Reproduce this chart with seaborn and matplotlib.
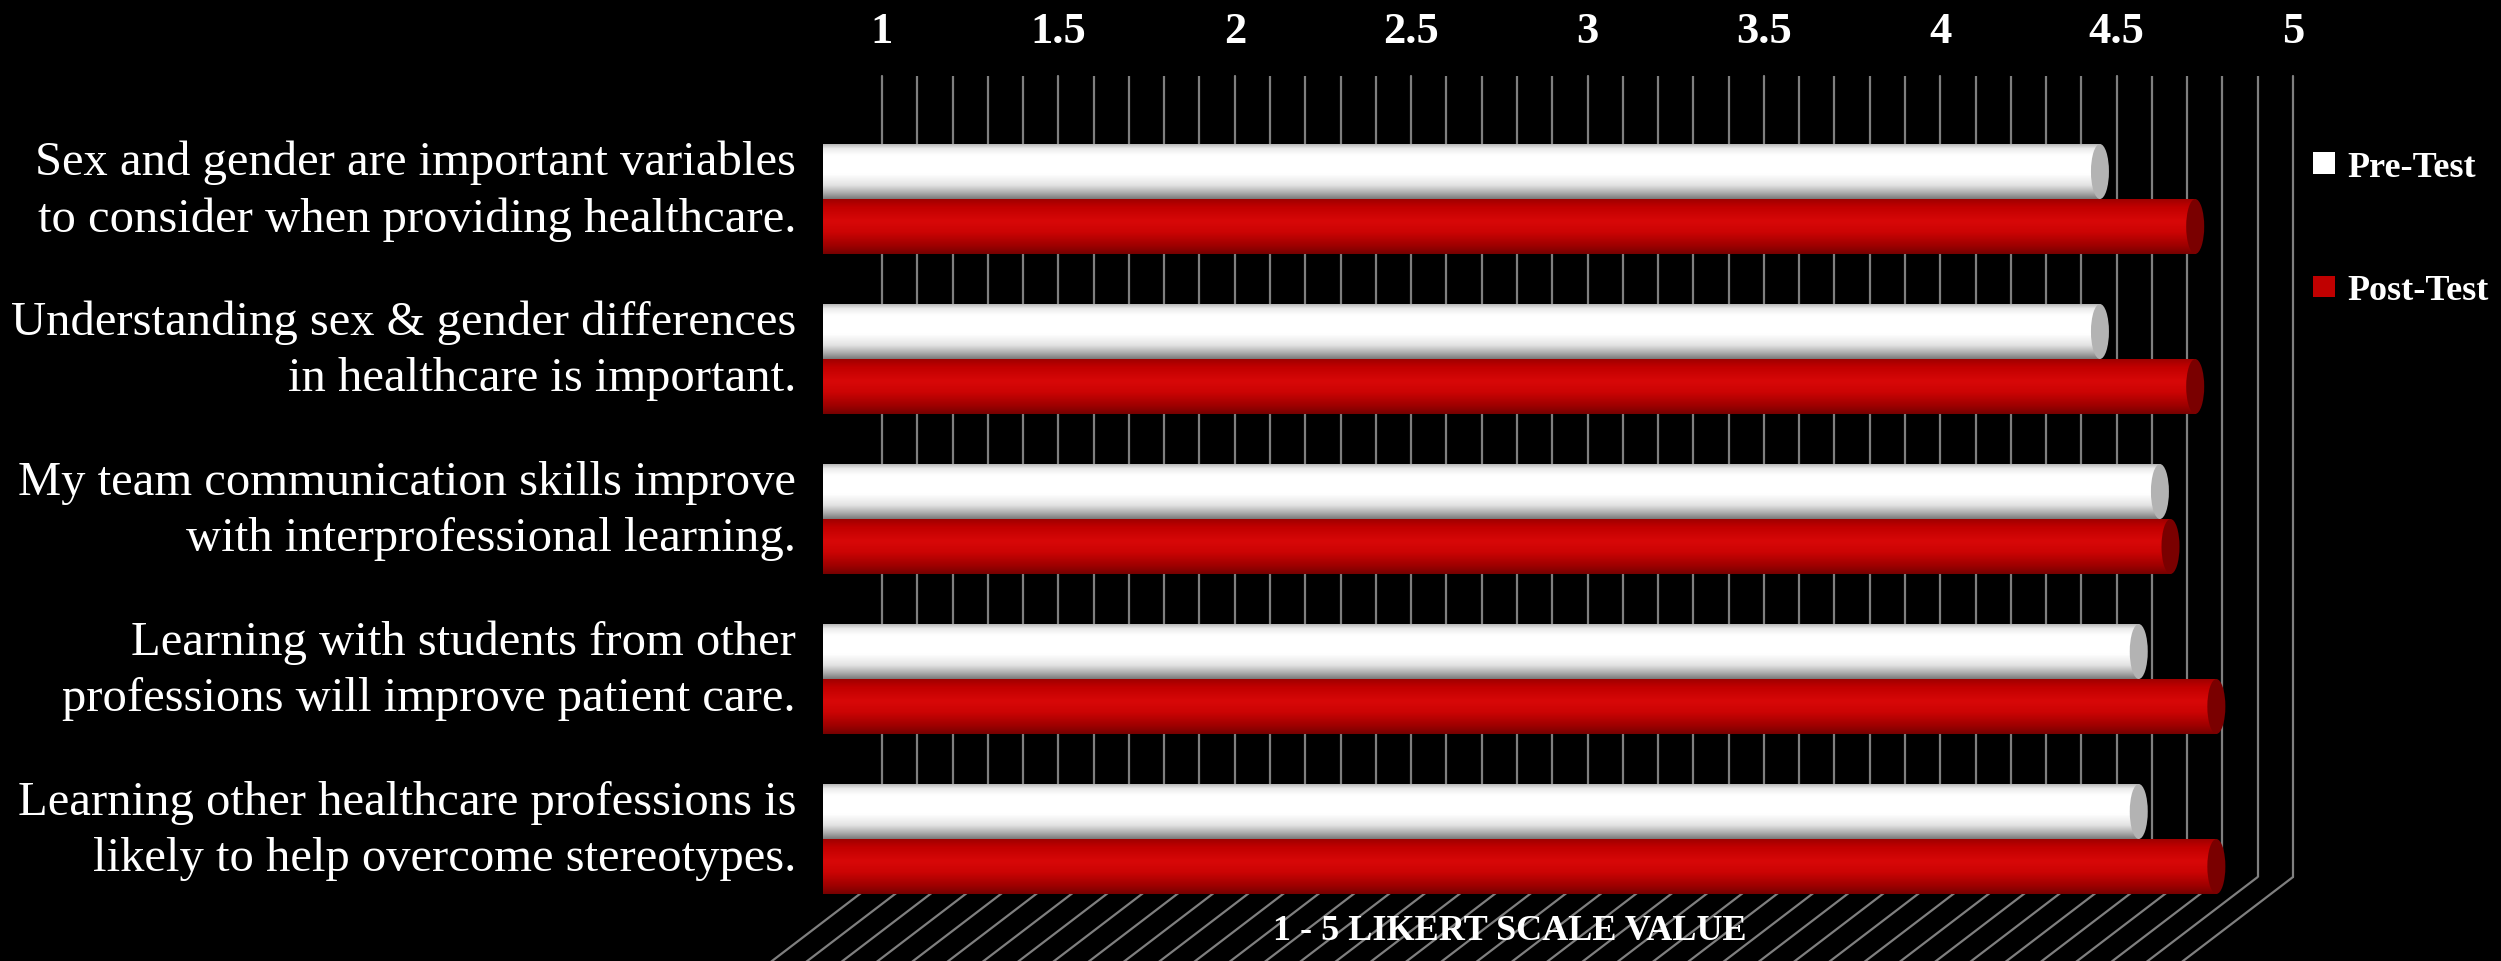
import numpy as np
import pandas as pd
import matplotlib
matplotlib.use("Agg")
import matplotlib.pyplot as plt
import matplotlib.transforms as mtransforms
import seaborn as sns
from matplotlib.patches import Ellipse, Patch
from matplotlib.lines import Line2D

# ---------------- data ----------------
categories = [
    "Sex and gender are important variables\nto consider when providing healthcare.",
    "Understanding sex & gender differences\nin healthcare is important.",
    "My team communication skills improve\nwith interprofessional learning.",
    "Learning with students from other\nprofessions will improve patient care.",
    "Learning other healthcare professions is\nlikely to help overcome stereotypes.",
]
series_names = ["Pre-Test", "Post-Test"]
pre_test = [4.62, 4.62, 4.79, 4.73, 4.73]
post_test = [4.89, 4.89, 4.82, 4.95, 4.95]
x_ticks = [1, 1.5, 2, 2.5, 3, 3.5, 4, 4.5, 5]
x_tick_labels = ["1", "1.5", "2", "2.5", "3", "3.5", "4", "4.5", "5"]
x_title = "1 - 5 LIKERT SCALE VALUE"
series_colors = {"Pre-Test": "#ffffff", "Post-Test": "#c00000"}

df = pd.DataFrame({
    "Statement": categories * 2,
    "Series": [series_names[0]] * len(categories) + [series_names[1]] * len(categories),
    "Value": pre_test + post_test,
})

# ---------------- style ----------------
sns.set_style("dark", {"axes.facecolor": "none", "figure.facecolor": "black"})
plt.rcParams["font.family"] = ["Liberation Serif", "DejaVu Serif"]

W, H = 2501, 962
fig = plt.figure(figsize=(W / 100, H / 100), dpi=100, facecolor="black")


def fx(px):
    return px / W


def fy(py):
    return 1 - py / H


GRID = "#7f7f7f"

# ---------------- back wall (grid + top ticks) ----------------
wall_l, wall_r, wall_t, wall_b = 882, 2293, 77, 878
ax_wall = fig.add_axes([fx(wall_l), fy(wall_b), (wall_r - wall_l) / W, (wall_b - wall_t) / H])
ax_wall.set_zorder(0)
ax_wall.set_facecolor("none")
ax_wall.set_xlim(1, 5)
ax_wall.set_ylim(0, 1)
ax_wall.xaxis.tick_top()
ax_wall.set_xticks(x_ticks, labels=x_tick_labels)
minor = np.round(np.arange(1, 5.0001, 0.1), 2)
ax_wall.set_xticks(minor, minor=True)
ax_wall.set_yticks([])
ax_wall.grid(axis="x", which="both", color=GRID, lw=1.6)
ax_wall.grid(axis="y", visible=False)
ax_wall.tick_params(axis="x", which="both", length=0, pad=18, labelsize=32,
                    labelcolor="white")
for t in ax_wall.get_xticklabels():
    t.set_fontweight("bold")
for ln in ax_wall.get_xgridlines():
    ln.set_clip_on(False)
for s in ax_wall.spines.values():
    s.set_visible(False)

# floor lines (continuation of grid lines toward the viewer)
for v in minor:
    p0 = ax_wall.transData.transform((v, 0))
    p1 = p0 + np.array([-110.0, -84.0]) * 1.3
    a0 = fig.transFigure.inverted().transform(p0)
    a1 = fig.transFigure.inverted().transform(p1)
    fig.add_artist(Line2D([a0[0], a1[0]], [a0[1], a1[1]], color=GRID, lw=1.6,
                          transform=fig.transFigure, zorder=1))

# ---------------- bars ----------------
bar_l, bar_r, bar_t, bar_b = 823, 2234, 120, 920
ax = fig.add_axes([fx(bar_l), fy(bar_b), (bar_r - bar_l) / W, (bar_b - bar_t) / H])
ax.set_zorder(5)
ax.set_facecolor("none")
sns.barplot(data=df, x="Value", y="Statement", hue="Series", hue_order=series_names,
            order=categories, palette=series_colors, width=0.6875, orient="h",
            errorbar=None, legend=False, saturation=1, ax=ax)


def profile(stops):
    n = 200
    t = np.linspace(0, 1, n)
    pos = [s[0] for s in stops]
    cols = np.array([matplotlib.colors.to_rgb(s[1]) for s in stops])
    arr = np.stack([np.interp(t, pos, cols[:, k]) for k in range(3)], axis=1)
    return arr[:, None, :]


white_grad = profile([(0.0, "#b8b8b8"), (0.08, "#ececec"), (0.2, "#ffffff"),
                      (0.55, "#ffffff"), (0.75, "#e2e2e2"), (0.9, "#a8a8a8"),
                      (1.0, "#7a7a7a")])
red_grad = profile([(0.0, "#a00000"), (0.15, "#c20000"), (0.4, "#d80808"),
                    (0.6, "#cc0404"), (0.85, "#9e0000"), (1.0, "#760000")])

x_lo = 1.0
a = 9 / ((bar_r - bar_l) / 4.0)  # half width of the end ellipse in data units
for p in list(ax.patches):
    val = p.get_x() + p.get_width()
    y0 = p.get_y()
    h = p.get_height()
    yc = y0 + h / 2
    is_red = p.get_facecolor()[1] < 0.5
    p.set_visible(False)
    grad = red_grad if is_red else white_grad
    cap = "#7a0000" if is_red else "#b3b3b3"
    ax.imshow(grad, extent=(x_lo, val, y0 + h, y0), origin="upper", aspect="auto",
              interpolation="bilinear", zorder=2)
    e_left = Ellipse((x_lo, yc), 2 * a, h, facecolor="none", edgecolor="none")
    ax.add_patch(e_left)
    im = ax.imshow(grad, extent=(x_lo - a, x_lo + a, y0 + h, y0), origin="upper",
                   aspect="auto", interpolation="bilinear", zorder=2)
    im.set_clip_box(None)
    im.set_clip_path(e_left)
    ax.add_patch(Ellipse((val, yc), 2 * a, h, facecolor=cap, edgecolor="none",
                         zorder=3, clip_on=False))

ax.set_xlim(1, 5)
ax.set_ylim(len(categories) - 0.5, -0.5)
ax.set_xticks([])
ax.set_yticks(range(len(categories)), labels=[""] * len(categories))
ax.tick_params(axis="y", length=0)
ax.set_xlabel("")
ax.set_ylabel("")
ax.grid(False)
for s in ax.spines.values():
    s.set_visible(False)

# category labels (right aligned, slightly above each group centre)
lab_trans = mtransforms.blended_transform_factory(ax.transAxes, ax.transData) + \
    mtransforms.ScaledTranslation(0, 9 / 100, fig.dpi_scale_trans)
for i, c in enumerate(categories):
    ax.text(-27 / (bar_r - bar_l), i, c, transform=lab_trans, ha="right", va="center",
            multialignment="right", color="white", fontsize=35, linespacing=1.36,
            clip_on=False)

# axis title
fig.text(fx(1510), fy(932), x_title, ha="center", va="center", color="white",
         fontweight="bold", fontsize=26)

# legend
handles = [Patch(facecolor=series_colors[s], edgecolor="none", label=s) for s in series_names]
fig.legend(handles=handles, loc="upper left", bbox_to_anchor=(fx(2313), fy(152)),
           frameon=False, prop={"weight": "bold", "size": 26}, labelcolor="white",
           handlelength=0.6, handleheight=0.55, handletextpad=0.35, labelspacing=2.5,
           borderpad=0, borderaxespad=0)

fig.savefig("out.png", dpi=100, facecolor="black")
